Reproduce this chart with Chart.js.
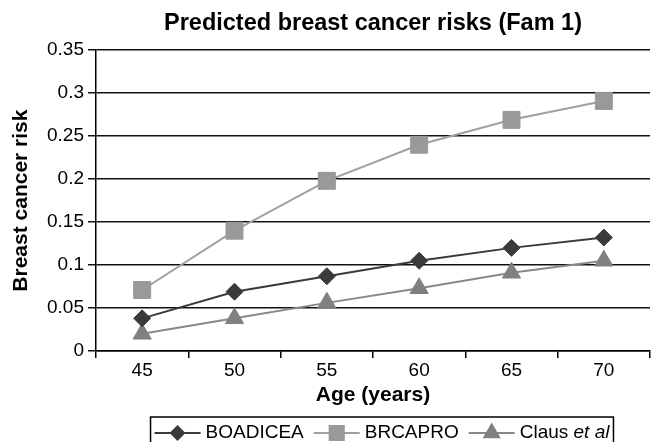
<!DOCTYPE html>
<html><head><meta charset="utf-8">
<script src="https://cdn.jsdelivr.net/npm/chart.js@4"></script>
<style>html,body{margin:0;padding:0;background:#fff;overflow:hidden;width:656px;height:442px}canvas{display:block}</style>
</head><body>
<canvas id="c" width="663" height="442"></canvas>
<script>
const categories = ['45', '50', '55', '60', '65', '70'];
const boadicea = [0.038, 0.069, 0.087, 0.105, 0.120, 0.132];
const brcapro = [0.071, 0.140, 0.198, 0.240, 0.269, 0.291];
const claus = [0.020, 0.038, 0.056, 0.073, 0.091, 0.105];
const seriesNames = ['BOADICEA', 'BRCAPRO', 'Claus et al'];
const yTicks = [0, 0.05, 0.1, 0.15, 0.2, 0.25, 0.3, 0.35];

const FAMILY = '"Liberation Sans", Arial, Helvetica, sans-serif';
Chart.defaults.font.family = FAMILY;
Chart.defaults.color = '#000';

const legendPlugin = {
  id: 'boxLegend',
  afterDraw(chart) {
    const ctx = chart.ctx;
    const ds = chart.data.datasets;
    const fontSize = 19;
    const lineLen = 46, gapText = 5, gapItem = 10, padL = 4, padR = 4;
    const top = 417, bottom = 447;
    const cy = 433;
    ctx.save();
    const normal = fontSize + 'px ' + FAMILY;
    const italic = 'italic ' + fontSize + 'px ' + FAMILY;
    const widths = ds.map(d => {
      const m = d.label.match(/^(.*?)(et al)$/);
      if (m) {
        ctx.font = normal; const a = ctx.measureText(m[1]).width;
        ctx.font = italic; const b = ctx.measureText(m[2]).width;
        return a + b;
      }
      ctx.font = normal; return ctx.measureText(d.label).width;
    });
    let total = padL + padR;
    widths.forEach((w, i) => { total += lineLen + gapText + w + (i < widths.length - 1 ? gapItem : 0); });
    const center = (chart.chartArea.left + chart.chartArea.right) / 2 + 9;
    const left = center - total / 2;
    ctx.strokeStyle = '#000';
    ctx.lineWidth = 1.5;
    ctx.strokeRect(left, top, total, bottom - top);
    let x = left + padL;
    ds.forEach((d, i) => {
      ctx.strokeStyle = d.borderColor;
      ctx.lineWidth = d.borderWidth;
      ctx.beginPath(); ctx.moveTo(x, cy); ctx.lineTo(x + lineLen, cy); ctx.stroke();
      ctx.fillStyle = d.pointBackgroundColor;
      ctx.strokeStyle = d.pointBorderColor;
      Chart.helpers.drawPoint(ctx, {pointStyle: d.pointStyle, radius: d.legendRadius, rotation: 0, borderWidth: 1}, x + lineLen / 2, cy);
      const tx = x + lineLen + gapText;
      ctx.fillStyle = '#000';
      ctx.textBaseline = 'middle';
      ctx.textAlign = 'left';
      const m = d.label.match(/^(.*?)(et al)$/);
      if (m) {
        ctx.font = normal; ctx.fillText(m[1], tx, cy);
        const a = ctx.measureText(m[1]).width;
        ctx.font = italic; ctx.fillText(m[2], tx + a, cy);
      } else {
        ctx.font = normal; ctx.fillText(d.label, tx, cy);
      }
      x = tx + widths[i] + gapItem;
    });
    ctx.restore();
  }
};

new Chart(document.getElementById('c'), {
  type: 'line',
  data: {
    labels: categories,
    datasets: [
      {label: seriesNames[0], data: boadicea, borderColor: '#3a3a3a', borderWidth: 2,
       pointStyle: 'rectRot', pointRadius: 8.5, legendRadius: 6.5,
       pointBackgroundColor: '#3a3a3a', pointBorderColor: '#3a3a3a', pointBorderWidth: 1},
      {label: seriesNames[1], data: brcapro, borderColor: '#a0a0a0', borderWidth: 2,
       pointStyle: 'rect', pointRadius: 12, legendRadius: 10,
       pointBackgroundColor: '#999999', pointBorderColor: '#999999', pointBorderWidth: 1},
      {label: seriesNames[2], data: claus, borderColor: '#888888', borderWidth: 2,
       pointStyle: 'triangle', pointRadius: 10.5, legendRadius: 8.5,
       pointBackgroundColor: '#808080', pointBorderColor: '#808080', pointBorderWidth: 1}
    ]
  },
  options: {
    responsive: false,
    animation: false,
    devicePixelRatio: 1,
    layout: {padding: {top: 0, left: 0, right: 0, bottom: 30}},
    plugins: {
      legend: {display: false},
      tooltip: {enabled: false},
      title: {display: true, fullSize: false, text: 'Predicted breast cancer risks (Fam 1)',
        font: {size: 23.5, weight: 'bold'}, color: '#000', padding: {top: 9, bottom: 13}}
    },
    scales: {
      x: {
        offset: true,
        afterFit: s => { s.height = 61; },
        ticks: {font: {size: 19}, color: '#000', padding: 1, maxRotation: 0},
        grid: {offset: true, drawOnChartArea: false, tickLength: 7, color: '#000', lineWidth: 1.5},
        border: {color: '#000', width: 1.5},
        title: {display: true, text: 'Age (years)', font: {size: 21, weight: 'bold'}, color: '#000', padding: {top: 0, bottom: 4}}
      },
      y: {
        min: 0, max: 0.35,
        afterBuildTicks: s => { s.ticks = yTicks.map(v => ({value: v})); },
        afterFit: s => { s.width = 96; },
        ticks: {callback: v => String(+Number(v).toFixed(2)), font: {size: 19}, color: '#000', padding: 4},
        grid: {color: '#111', lineWidth: 1.5, tickLength: 8},
        border: {color: '#000', width: 1.5},
        title: {display: true, text: 'Breast cancer risk', font: {size: 21, weight: 'bold'}, color: '#000', padding: {top: 9, bottom: 0}}
      }
    }
  },
  plugins: [legendPlugin]
});
</script>
</body></html>
